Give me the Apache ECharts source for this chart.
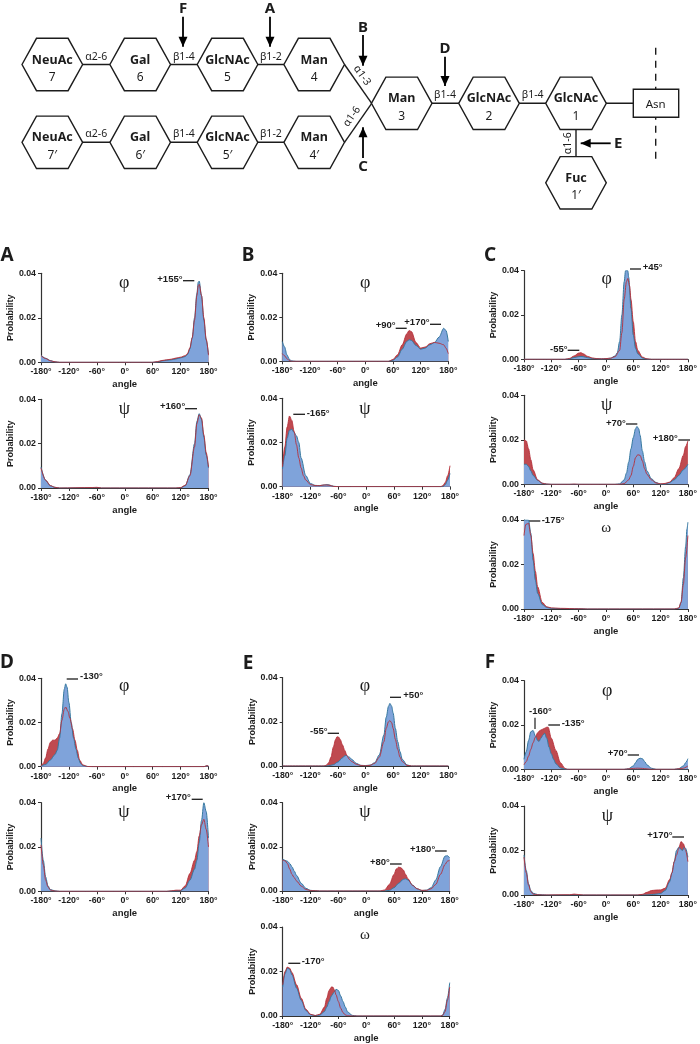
<!DOCTYPE html>
<html>
<head>
<meta charset="utf-8">
<title>Glycan linkage torsion distributions</title>
<script src="https://cdn.jsdelivr.net/npm/echarts@6/dist/echarts.min.js"></script>
<style>
  html, body { margin: 0; padding: 0; background: #fff; }
  #chart { width: 700px; height: 1044px; }
</style>
</head>
<body>
<div id="chart"></div>
<script>
const aPhiBlue = [[-180,3.2],[-170,1.8],[-160,0.8],[-150,0.2],[-140,0],[60,0],[70,0.2],[80,0.6],[90,0.9],[100,1.1],[110,1.5],[120,2],[130,2.6],[135,3.5],[140,6],[145,11],[150,20],[155,31],[158,36],[160,36.5],[165,30],[170,19],[175,10],[180,3.5]]
const aPhiRed = [[-180,3],[-170,1.7],[-160,0.7],[-150,0.2],[-140,0],[60,0],[70,0.3],[80,0.8],[90,1.1],[100,1.4],[110,1.9],[120,2.3],[130,3],[135,4],[140,6.5],[145,11],[150,19],[155,30],[158,34.5],[160,35],[165,30],[170,20],[175,10.5],[180,3.2]]
const aPsiBlue = [[-180,9.5],[-170,3.5],[-160,1],[-150,0.3],[-140,0],[-70,0.1],[-60,0.2],[-50,0],[110,0],[120,0.1],[130,1],[140,6],[150,20],[155,30],[160,33.5],[165,31],[170,23],[175,15],[180,9]]
const aPsiRed = [[-180,9],[-170,3.5],[-160,1.1],[-150,0.3],[-140,0],[-70,0.2],[-60,0.3],[-50,0],[110,0],[120,0.2],[130,1.2],[140,5.5],[150,18.5],[155,29],[160,33],[165,31.5],[170,24],[175,16],[180,9.5]]

const bPhiBlue = [[-180,9],[-175,6.5],[-170,3],[-165,1],[-160,0.2],[-150,0],[50,0],[60,0.5],[70,2],[80,5.5],[90,9],[95,9.8],[100,9.5],[110,7.2],[120,5.5],[130,6],[140,7.5],[150,8.5],[160,11],[170,15],[175,14],[180,9]]
const bPhiRed = [[-180,3.5],[-175,2.5],[-170,1.2],[-165,0.4],[-160,0],[50,0],[60,0.8],[70,3],[80,7.5],[90,12.5],[95,14],[100,13.5],[110,8.5],[120,6],[130,6.5],[140,8],[150,8.6],[160,8.2],[170,7.5],[175,6],[180,3.5]]
const bPsiBlue = [[-180,8],[-175,14],[-170,22],[-165,25.5],[-160,26],[-155,24.5],[-150,23],[-145,20],[-140,13],[-130,5],[-120,1.5],[-110,0.6],[-100,0.5],[-90,0.8],[-85,1],[-80,0.8],[-70,0.2],[-60,0],[165,0],[170,1],[175,3],[180,6]]
const bPsiRed = [[-180,9],[-175,18],[-170,27],[-165,32],[-160,30],[-155,25],[-150,19],[-145,13],[-140,8.5],[-135,5],[-130,3],[-120,1],[-110,0.5],[-100,0.5],[-90,0.8],[-80,0.7],[-70,0.1],[-60,0],[160,0],[165,0.5],[170,2],[175,5],[180,9.5]]

const cPhiBlue = [[-180,0],[-90,0],[-80,0.2],[-70,0.8],[-60,1.2],[-55,1.3],[-50,1.2],[-40,0.7],[-30,0.4],[-20,0.3],[-10,0.2],[0,0.3],[10,0.5],[20,1.5],[25,3],[30,8],[35,20],[40,35],[43,40],[48,40],[50,37],[55,23],[60,11],[65,5],[70,2.5],[80,0.6],[90,0.1],[100,0],[180,0]]
const cPhiRed = [[-180,0],[-90,0],[-80,0.4],[-70,1.5],[-60,2.8],[-55,3],[-50,2.5],[-40,1.3],[-30,0.6],[-20,0.3],[-10,0.2],[0,0.3],[10,0.5],[20,1.2],[30,4],[35,12],[40,27],[45,35],[48,36.5],[52,33],[55,27],[60,17],[65,8],[70,4],[80,1],[90,0.2],[100,0],[180,0]]
const cPsiBlue = [[-180,9],[-175,9],[-170,8],[-165,6],[-160,4],[-150,1.8],[-140,0.5],[-130,0.1],[-120,0],[20,0],[30,0.2],[40,2],[45,5],[50,10],[55,16],[60,21],[65,25],[68,26],[72,25],[75,22],[80,15],[85,10],[90,6],[100,2.5],[110,0.8],[120,0.1],[130,0.1],[140,0.8],[150,2],[160,4],[170,6.5],[180,9]]
const cPsiRed = [[-180,20],[-175,19.5],[-170,16],[-165,11],[-160,6.5],[-150,2],[-140,0.5],[-130,0.1],[-120,0],[-80,0],[-70,0.1],[-60,0],[30,0],[40,0.3],[50,2],[55,4],[60,8],[65,12],[70,13.3],[75,13],[80,10.5],[85,7],[90,4.5],[100,2],[110,0.6],[120,0.2],[130,0.4],[140,1],[150,3],[160,7],[170,13],[175,17],[180,19.5]]
const cOmegaBlue = [[-180,40],[-170,40],[-165,34],[-160,22],[-155,13],[-150,7],[-140,2],[-130,0.7],[-120,0.3],[-100,0.2],[-60,0.1],[-40,0],[150,0],[160,0.3],[165,3],[170,14],[175,28],[178,36],[180,39]]
const cOmegaRed = [[-180,33],[-176,38],[-170,38.5],[-165,33],[-160,25],[-155,17],[-150,10],[-140,3],[-130,1],[-120,0.5],[-100,0.3],[-60,0.1],[-40,0],[150,0],[160,0.5],[165,3],[170,11],[175,23],[180,33]]

const dPhiBlue = [[-180,0.3],[-170,1],[-160,3],[-150,5.5],[-145,7.5],[-140,13],[-135,24],[-130,35],[-127,37.5],[-124,36],[-120,29],[-115,20],[-110,13],[-105,8],[-100,4],[-95,1.5],[-90,0.5],[-80,0.1],[-70,0],[170,0],[177,0.4],[180,0.2]]
const dPhiRed = [[-180,0.3],[-175,1.5],[-170,4],[-165,8],[-160,11],[-155,12],[-150,12],[-145,13],[-140,15],[-135,21],[-130,26],[-127,27],[-122,25],[-118,22],[-112,17],[-107,12],[-102,7.5],[-97,3],[-90,0.8],[-80,0.1],[-70,0],[170,0],[177,0.5],[180,0.2]]
const dPsiBlue = [[-180,24],[-175,14],[-170,6.5],[-165,2.5],[-160,0.8],[-150,0.2],[-140,0],[90,0],[100,0.1],[120,0.3],[130,1.5],[140,5],[150,10],[155,14],[160,22],[165,32],[170,40],[175,36],[180,24]]
const dPsiRed = [[-180,21],[-175,12],[-170,5],[-165,2],[-160,0.6],[-150,0.1],[-140,0],[90,0],[100,0.2],[110,0.5],[120,0.5],[130,2.5],[140,8],[150,14],[155,18],[160,25],[165,30],[170,32.5],[175,28],[180,20]]

const ePhiBlue = [[-180,0],[-90,0],[-80,0.1],[-70,0.6],[-60,1.8],[-50,3.7],[-45,4.6],[-42,4.8],[-35,4],[-30,3],[-20,1.2],[-10,0.3],[0,0.2],[10,0.4],[20,1.5],[30,5],[40,14],[45,22],[50,27],[53,28.3],[57,27],[60,24],[65,17],[70,11],[75,6.5],[80,3],[90,0.5],[100,0],[180,0]]
const ePhiRed = [[-180,0],[-90,0],[-85,0.4],[-80,1.5],[-75,4],[-70,8.5],[-65,12],[-62,13.2],[-58,13],[-55,12],[-50,9.5],[-45,7],[-40,4.5],[-35,3],[-30,2],[-20,0.8],[-10,0.2],[0,0.1],[10,0.3],[20,1.2],[30,4],[40,11],[45,17],[50,20],[53,20.5],[57,19.5],[60,17],[65,12],[70,7.5],[75,4],[80,2],[90,0.3],[100,0],[180,0]]
const ePsiBlue = [[-180,14.5],[-170,13.5],[-165,12.5],[-160,11],[-155,9],[-150,7],[-140,3.5],[-130,1.2],[-120,0.3],[-110,0.1],[-100,0],[40,0],[50,0.3],[60,1.5],[70,3.5],[80,5.3],[85,5.5],[90,5],[100,2.7],[110,1],[120,0.2],[130,0.4],[140,1.5],[150,5],[160,11],[170,15.8],[175,16],[180,15]]
const ePsiRed = [[-180,14],[-175,13.7],[-170,12.5],[-165,10],[-160,7.5],[-155,6],[-150,4.5],[-140,2.2],[-130,0.7],[-120,0.2],[-110,0.1],[-100,0],[30,0],[40,0.5],[50,3],[60,7.5],[65,10],[70,10.8],[75,10.5],[80,9.5],[85,7.5],[90,5.5],[100,2.5],[110,1],[120,0.3],[130,0.3],[140,1],[150,3],[160,7.5],[170,12],[175,13.5],[180,14]]
const eOmegaBlue = [[-180,13],[-175,19],[-170,21.5],[-165,21],[-160,18.5],[-150,12.5],[-140,7],[-130,2.5],[-120,0.6],[-110,0.2],[-100,0.4],[-90,2],[-85,4],[-80,6.5],[-75,9],[-70,10.5],[-65,12],[-60,11.5],[-55,9],[-50,6.5],[-45,4],[-40,1.8],[-30,0.3],[-20,0],[160,0],[165,0.5],[170,3],[175,8],[180,15]]
const eOmegaRed = [[-180,14],[-175,20],[-170,22],[-165,21.5],[-160,19.5],[-150,14],[-140,8],[-130,3],[-120,0.8],[-110,0.2],[-100,0.8],[-90,4],[-85,8],[-80,11.5],[-75,13],[-72,13],[-68,11.5],[-65,9.5],[-60,6.5],[-55,3.5],[-50,1.5],[-45,0.5],[-40,0.1],[-30,0],[160,0],[165,0.3],[170,2],[175,7],[180,13]]

const fPhiBlue = [[-180,4.5],[-175,8],[-170,13],[-165,17],[-160,17.5],[-155,15],[-150,13],[-147,12.6],[-143,14],[-138,15.5],[-135,16.3],[-130,14],[-125,10],[-120,7],[-115,4.5],[-110,2.5],[-100,0.6],[-90,0.1],[-80,0],[40,0],[50,0.3],[60,1.5],[65,3],[70,4.5],[75,5],[80,4.8],[85,3.5],[90,2],[100,0.5],[110,0],[150,0],[160,0.3],[170,1.5],[175,3],[180,4.8]]
const fPhiRed = [[-180,2],[-175,3.5],[-170,6],[-165,9],[-160,12],[-155,14.5],[-150,16.5],[-145,17.5],[-140,18],[-135,18.5],[-130,19],[-127,19],[-120,14],[-110,8.5],[-100,3],[-90,0.4],[-85,0],[40,0],[50,0.2],[60,0.4],[70,0.5],[80,0.4],[90,0.2],[100,0],[150,0],[170,0.5],[180,1.5]]
const fPsiBlue = [[-180,18],[-175,11],[-170,5],[-165,2],[-160,0.8],[-150,0.2],[-140,0.1],[-130,0],[90,0],[100,0.2],[110,0.4],[120,0.7],[130,2],[140,6],[145,10],[150,15],[155,20],[160,21.5],[165,20.5],[168,20],[172,21.5],[175,21],[180,17]]
const fPsiRed = [[-180,17],[-175,10],[-170,4.5],[-165,1.5],[-160,0.4],[-150,0.1],[-140,0],[-80,0.1],[-70,0.4],[-60,0.2],[-50,0],[70,0],[80,0.3],[90,1.2],[100,2],[110,2.2],[120,2.3],[130,3],[140,7],[145,10],[150,15],[155,18],[160,21],[165,24],[170,23],[175,20],[180,15]]

const angleTicks = { min: -180, max: 180, interval: 60 }
const probTicks = { min: 0, max: 0.04, interval: 0.02 }

const BLUE_FILL = '#7fa3da'
const BLUE_LINE = '#37799f'
const RED_FILL = '#bf4a50'
const RED_LINE = '#b5303a'
const INK = '#1c1c1c'
const SANS = 'Liberation Sans, Arial, sans-serif'
const HUMAN = '"Noto Sans", sans-serif'

// left, right, top (0.04), bottom (0.00) of every plot in page pixels
const panels = [
  { box: [41, 208.5, 273.3, 362.3], blue: aPhiBlue, red: aPhiRed },
  { box: [41, 208.5, 399.3, 488], blue: aPsiBlue, red: aPsiRed },
  { box: [282.3, 448.3, 273.3, 361.3], blue: bPhiBlue, red: bPhiRed },
  { box: [282.5, 450, 398.3, 486.7], blue: bPsiBlue, red: bPsiRed },
  { box: [524, 689.3, 270.7, 359.3], blue: cPhiBlue, red: cPhiRed },
  { box: [524, 691, 395.3, 484.3], blue: cPsiBlue, red: cPsiRed },
  { box: [524, 691, 520, 609], blue: cOmegaBlue, red: cOmegaRed },
  { box: [41, 208.5, 678.3, 766.7], blue: dPhiBlue, red: dPhiRed },
  { box: [41, 208.5, 802.7, 891.3], blue: dPsiBlue, red: dPsiRed },
  { box: [282.7, 448.3, 677.5, 766], blue: ePhiBlue, red: ePhiRed },
  { box: [282.7, 449.7, 802.7, 891], blue: ePsiBlue, red: ePsiRed },
  { box: [282.7, 449.7, 927, 1016], blue: eOmegaBlue, red: eOmegaRed },
  { box: [524, 691, 680.7, 769.3], blue: fPhiBlue, red: fPhiRed },
  { box: [524, 691, 806, 895], blue: fPsiBlue, red: fPsiRed }
]

const toProb = list => list.map(d => [d[0], d[1] / 1000])

const grids = []
const xAxes = []
const yAxes = []
const series = []

panels.forEach((p, i) => {
  const [left, right, top, bottom] = p.box
  grids.push({ left, top, width: right - left, height: bottom - top })
  xAxes.push({
    type: 'value', gridIndex: i, ...angleTicks,
    name: 'angle', nameLocation: 'middle', nameGap: 17,
    nameTextStyle: { fontFamily: SANS, fontWeight: 'bold', fontSize: 9.5, color: INK },
    axisLine: { onZero: false, lineStyle: { color: '#333', width: 1.2 } },
    axisTick: { length: 3, lineStyle: { color: '#333' } },
    axisLabel: { margin: 5, fontFamily: SANS, fontWeight: 'bold', fontSize: 8.8, color: INK, hideOverlap: false, formatter: v => v + '°' },
    splitLine: { show: false }
  })
  yAxes.push({
    type: 'value', gridIndex: i, ...probTicks,
    name: 'Probability', nameLocation: 'middle', nameGap: 18.5,
    nameTextStyle: { fontFamily: SANS, fontWeight: 'bold', fontSize: 9, color: INK },
    axisLine: { show: true, onZero: false, lineStyle: { color: '#333', width: 1.2 } },
    axisTick: { show: true, length: 3, lineStyle: { color: '#333' } },
    axisLabel: { margin: 5, fontFamily: SANS, fontWeight: 'bold', fontSize: 8.8, color: INK, formatter: v => v.toFixed(2) },
    splitLine: { show: false }
  })
  const base = { type: 'line', xAxisIndex: i, yAxisIndex: i, showSymbol: false, smooth: 0.3, smoothMonotone: 'x', silent: true }
  series.push({ ...base, data: toProb(p.red), lineStyle: { width: 0 }, areaStyle: { color: RED_FILL, opacity: 1 }, z: 2 })
  series.push({ ...base, data: toProb(p.blue), lineStyle: { color: BLUE_LINE, width: 1 }, areaStyle: { color: BLUE_FILL, opacity: 1 }, z: 3 })
  series.push({ ...base, data: toProb(p.red), lineStyle: { color: RED_LINE, width: 0.9 }, z: 4 })
})

const graphic = []

function addText (text, x, y, opts) {
  graphic.push({
    type: 'text', x, y, rotation: (opts && opts.rotation) || 0,
    style: {
      text, fill: INK, align: 'center', verticalAlign: 'middle',
      font: (opts && opts.font) || `10.5px ${HUMAN}`,
      ...(opts && opts.style)
    }
  })
}

function addLine (x1, y1, x2, y2, width, color) {
  graphic.push({
    type: 'line',
    shape: { x1, y1, x2, y2 },
    style: { stroke: color || INK, lineWidth: width || 1.4 }
  })
}

// peak labels: text, text left, text y, line x1, line x2, line y
const peakNotes = [
  ['+155°', 157.3, 279, 183, 194.3, 280.7],
  ['+160°', 160, 406, 185, 197, 408.7],
  ['+90°', 375.7, 325.7, 395.7, 406.7, 328.3],
  ['+170°', 404.3, 322.3, 430, 441, 324.3],
  ['-165°', 306.7, 413.3, 293.3, 305, 414.3],
  ['+45°', 642.7, 267.3, 630, 641, 269],
  ['-55°', 550, 349, 567.7, 579.3, 350.3],
  ['+70°', 606, 423, 626, 637.3, 424],
  ['+180°', 652.7, 438.3, 678.3, 690, 440],
  ['-175°', 541.7, 520, 528.3, 540.3, 521],
  ['-130°', 80, 676.7, 66.7, 78, 679],
  ['+170°', 165.7, 797.3, 191.7, 202.7, 799.3],
  ['+50°', 403.3, 695.7, 390, 401, 697.3],
  ['-55°', 310, 731.7, 327.7, 339, 733.3],
  ['+180°', 410, 849.3, 435, 446.7, 851],
  ['+80°', 370, 862.3, 390, 401.7, 864],
  ['-170°', 301.7, 961.7, 288.3, 300.3, 963.3],
  ['-135°', 561.7, 723.3, 548.3, 560, 725],
  ['+70°', 607.7, 753.3, 627.7, 639, 755],
  ['+170°', 647.3, 835.7, 672.3, 684, 837]
]
peakNotes.forEach(n => {
  addText(n[0], n[1], n[2], { font: `bold 9.5px ${SANS}`, style: { align: 'left' } })
  addLine(n[3], n[5], n[4], n[5], 1.3)
})
addText('-160°', 529, 711.7, { font: `bold 9.5px ${SANS}`, style: { align: 'left' } })
addLine(535, 717.7, 535, 729, 1.2)

const torsionMarks = [
  ['φ', 124.3, 283], ['ψ', 124.3, 409], ['φ', 365.3, 283], ['ψ', 365, 409],
  ['φ', 606.7, 279], ['ψ', 606.7, 405], ['ω', 606.3, 528],
  ['φ', 124.3, 686.7], ['ψ', 124, 812.7], ['φ', 365, 686.7], ['ψ', 365, 812.7], ['ω', 365, 935],
  ['φ', 607.3, 691], ['ψ', 607.3, 816]
]
torsionMarks.forEach(m => {
  const size = m[0] === 'ω' ? 15 : 18
  addText(m[0], m[1], m[2], { font: `${size}px "Liberation Serif", serif` })
})

const panelLetters = [['A', 7, 256], ['B', 248, 256], ['C', 490, 256], ['D', 7, 663], ['E', 248, 663.5], ['F', 490, 662.7]]
panelLetters.forEach(l => addText(l[0], l[1], l[2], { font: `bold 19px ${HUMAN}` }))

// glycan scheme at the top of the page
const HEX_W = 30.3
const HEX_H = 26.2
const HEX_TOP = 15.8

function addHex (cx, cy, name, num) {
  graphic.push({
    type: 'polygon',
    shape: { points: [[cx - HEX_W, cy], [cx - HEX_TOP, cy - HEX_H], [cx + HEX_TOP, cy - HEX_H], [cx + HEX_W, cy], [cx + HEX_TOP, cy + HEX_H], [cx - HEX_TOP, cy + HEX_H]] },
    style: { fill: '#fff', stroke: INK, lineWidth: 1.4 }
  })
  addText(name, cx, cy - 4.5, { font: `bold 12.5px ${HUMAN}` })
  addText(num, cx, cy + 13, { font: `12px ${HUMAN}` })
}

function addArrow (x1, y1, x2, y2) {
  addLine(x1, y1, x2, y2, 1.8, '#000')
  const horizontal = y1 === y2
  const dir = horizontal ? Math.sign(x2 - x1) : Math.sign(y2 - y1)
  const points = horizontal
    ? [[x2, y2], [x2 - dir * 10, y2 - 4.5], [x2 - dir * 10, y2 + 4.5]]
    : [[x2, y2], [x2 - 4.5, y2 - dir * 10], [x2 + 4.5, y2 - dir * 10]]
  graphic.push({ type: 'polygon', shape: { points }, style: { fill: '#000' } })
}

const topY = 64.5
const lowY = 142.3
const coreY = 103.3
const chainX = [52.3, 140.2, 227.5, 314.2]
const chainNames = ['NeuAc', 'Gal', 'GlcNAc', 'Man']
const bondNames = ['α2-6', 'β1-4', 'β1-2']

addLine(chainX[0], topY, chainX[3], topY)
addLine(chainX[0], lowY, chainX[3], lowY)
addLine(344.5, topY, 371.7, coreY)
addLine(344.5, lowY, 371.7, coreY)
addLine(401.7, coreY, 633.3, coreY)
addLine(576, coreY, 576, 182.8)

chainNames.forEach((name, i) => {
  addHex(chainX[i], topY, name, String(7 - i))
  addHex(chainX[i], lowY, name, (7 - i) + '′')
})
bondNames.forEach((name, i) => {
  const x = (chainX[i] + chainX[i + 1]) / 2
  addText(name, x, 56.7)
  addText(name, x, 134.3)
})

addHex(401.7, coreY, 'Man', '3')
addHex(489, coreY, 'GlcNAc', '2')
addHex(576, coreY, 'GlcNAc', '1')
addHex(576, 182.8, 'Fuc', '1′')
addText('β1-4', 445, 95.3)
addText('β1-4', 532.7, 95.3)
addText('α1-6', 568.3, 143.3, { rotation: Math.PI / 2 })
addText('α1-3', 362, 75.5, { rotation: -Math.PI / 3.3 })
addText('α1-6', 352, 116.5, { rotation: Math.PI / 3.3 })

graphic.push({
  type: 'line', shape: { x1: 655.7, y1: 47.7, x2: 655.7, y2: 160 },
  style: { stroke: INK, lineWidth: 1.4, lineDash: [7, 6] }
})
graphic.push({
  type: 'rect', shape: { x: 633.3, y: 89.3, width: 45.4, height: 28 },
  style: { fill: '#fff', stroke: INK, lineWidth: 1.4 }
})
addText('Asn', 655.7, 104.5, { font: `11.5px ${HUMAN}` })

addArrow(183, 16.7, 183, 46.7)
addArrow(270, 16.7, 270, 46.7)
addArrow(363, 35, 363, 65.7)
addArrow(363, 158, 363, 127.3)
addArrow(445, 56.7, 445, 86)
addArrow(610.7, 143.3, 580.7, 143.3)
const arrowLetters = [['F', 183, 8.3], ['A', 270, 8.3], ['B', 363, 27.3], ['C', 363, 166.7], ['D', 445, 48.3], ['E', 618.3, 143.3]]
arrowLetters.forEach(l => addText(l[0], l[1], l[2], { font: `bold 15px ${HUMAN}` }))

const chart = echarts.init(document.getElementById('chart'))
chart.setOption({
  animation: false,
  backgroundColor: '#fff',
  tooltip: { show: false },
  grid: grids,
  xAxis: xAxes,
  yAxis: yAxes,
  series,
  graphic
})
</script>
</body>
</html>
